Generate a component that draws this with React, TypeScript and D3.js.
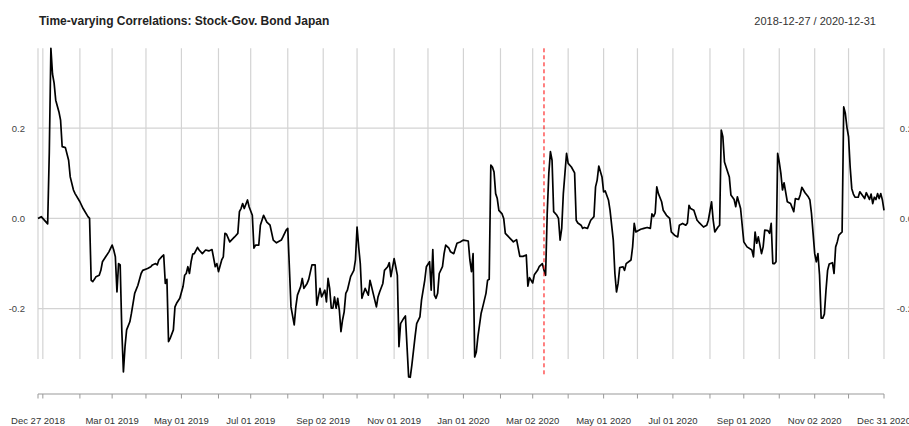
import React, { useEffect, useRef } from "react";
import * as d3 from "d3";

// Series: weekday observation index (0 = 2018-12-27) and correlation value
const startDate = "2018-12-27";
const endDate = "2020-12-31";
const eventDate = "2020-03-11";
const titleText = "Time-varying Correlations: Stock-Gov. Bond Japan";
const rangeText = "2018-12-27 / 2020-12-31";

const labelDates = [
  "2018-12-27", "2019-03-01", "2019-05-01", "2019-07-01", "2019-09-02",
  "2019-11-01", "2020-01-01", "2020-03-02", "2020-05-01", "2020-07-01",
  "2020-09-01", "2020-11-02", "2020-12-31",
];

const yTicks = [-0.2, 0, 0.2];

const corrSeries: [number, number][] = [
  [0, 0.0], [2, 0.004], [6, -0.012], [7, 0.145], [8, 0.377], [9, 0.32], [10, 0.3], [11, 0.262],
  [13, 0.236], [14, 0.218], [15, 0.159], [17, 0.157], [19, 0.129], [20, 0.092], [22, 0.063],
  [23, 0.055], [26, 0.037], [28, 0.022], [31, 0.004], [32, 0.0], [33, -0.137], [34, -0.14],
  [35, -0.135], [36, -0.129], [38, -0.126], [39, -0.115], [40, -0.096], [42, -0.085], [44, -0.074],
  [46, -0.059], [47, -0.07], [48, -0.085], [49, -0.163], [50, -0.1], [51, -0.103], [52, -0.247],
  [53, -0.34], [54, -0.284], [55, -0.247], [57, -0.229], [58, -0.21], [60, -0.166], [62, -0.148],
  [64, -0.122], [65, -0.115], [68, -0.111], [70, -0.107], [71, -0.103], [73, -0.1], [74, -0.103],
  [75, -0.092], [77, -0.084], [78, -0.081], [79, -0.144], [80, -0.135], [81, -0.273], [82, -0.266],
  [84, -0.247], [85, -0.196], [86, -0.188], [88, -0.177], [90, -0.151], [91, -0.126], [92, -0.122],
  [93, -0.107], [94, -0.122], [95, -0.096], [96, -0.079], [97, -0.078], [99, -0.064], [100, -0.07],
  [102, -0.078], [104, -0.07], [106, -0.072], [108, -0.069], [110, -0.107], [111, -0.1], [112, -0.118],
  [114, -0.092], [115, -0.085], [116, -0.033], [117, -0.035], [119, -0.052], [122, -0.041],
  [124, -0.033], [125, 0.015], [126, 0.022], [127, 0.033], [128, 0.022], [130, 0.041], [131, 0.026],
  [133, 0.007], [134, -0.066], [135, -0.059], [137, -0.059], [138, -0.015], [140, 0.007],
  [142, -0.008], [144, -0.015], [146, -0.048], [148, -0.054], [151, -0.048], [152, -0.041],
  [154, -0.026], [155, -0.022], [157, -0.196], [159, -0.236], [160, -0.196], [161, -0.17],
  [163, -0.151], [164, -0.133], [165, -0.155], [167, -0.144], [168, -0.135], [170, -0.103],
  [172, -0.103], [173, -0.192], [175, -0.155], [176, -0.174], [178, -0.159], [179, -0.185],
  [180, -0.133], [181, -0.155], [182, -0.199], [183, -0.199], [184, -0.174], [185, -0.199],
  [186, -0.177], [187, -0.203], [188, -0.251], [189, -0.225], [190, -0.207], [191, -0.166],
  [192, -0.159], [194, -0.129], [196, -0.115], [197, -0.092], [198, -0.019], [199, -0.063],
  [200, -0.1], [201, -0.177], [202, -0.166], [203, -0.155], [205, -0.17], [206, -0.137],
  [207, -0.151], [208, -0.166], [210, -0.196], [211, -0.174], [212, -0.163], [214, -0.144],
  [215, -0.115], [217, -0.107], [218, -0.098], [219, -0.129], [221, -0.089], [222, -0.107],
  [223, -0.126], [224, -0.284], [225, -0.233], [227, -0.221], [228, -0.216], [230, -0.351],
  [231, -0.352], [232, -0.325], [234, -0.262], [235, -0.233], [237, -0.218], [238, -0.181],
  [240, -0.137], [241, -0.107], [243, -0.096], [244, -0.159], [245, -0.069], [246, -0.17],
  [247, -0.177], [248, -0.166], [249, -0.122], [251, -0.107], [252, -0.078], [253, -0.059],
  [255, -0.066], [256, -0.074], [258, -0.078], [260, -0.055], [262, -0.052], [264, -0.048],
  [267, -0.05], [268, -0.092], [269, -0.118], [270, -0.078], [271, -0.307], [272, -0.296],
  [273, -0.262], [275, -0.21], [276, -0.196], [278, -0.166], [279, -0.137], [280, -0.135],
  [281, 0.118], [282, 0.114], [283, 0.103], [284, 0.055], [285, 0.044], [286, 0.018], [288, 0.01],
  [289, 0.0], [290, -0.033], [294, -0.048], [295, -0.052], [297, -0.047], [299, -0.084],
  [301, -0.084], [303, -0.081], [304, -0.15], [305, -0.131], [307, -0.143], [308, -0.125],
  [310, -0.115], [311, -0.107], [313, -0.1], [314, -0.115], [315, -0.126], [316, 0.011],
  [317, 0.1], [318, 0.148], [319, 0.129], [320, 0.015], [322, 0.007], [323, 0.0], [324, -0.048],
  [325, -0.022], [326, 0.055], [327, 0.1], [328, 0.144], [329, 0.122], [331, 0.114], [333, 0.101],
  [334, -0.004], [335, -0.01], [337, -0.015], [338, -0.022], [339, -0.02], [341, -0.022],
  [343, -0.004], [344, 0.0], [345, 0.004], [346, 0.07], [347, 0.085], [348, 0.116], [350, 0.092],
  [351, 0.059], [352, 0.061], [354, 0.041], [355, 0.018], [357, -0.048], [358, -0.122],
  [359, -0.163], [360, -0.144], [361, -0.109], [363, -0.107], [364, -0.115], [365, -0.1],
  [368, -0.092], [369, -0.063], [370, -0.011], [371, -0.03], [374, -0.024], [376, -0.022],
  [378, -0.02], [380, -0.022], [381, 0.01], [382, 0.004], [383, 0.012], [384, 0.07], [385, 0.055],
  [387, 0.037], [388, 0.018], [390, 0.007], [392, 0.0], [393, -0.03], [395, -0.037], [397, -0.041],
  [398, -0.015], [400, -0.011], [402, -0.015], [403, -0.01], [404, 0.029], [405, 0.022],
  [407, 0.018], [409, -0.004], [410, -0.008], [413, -0.019], [415, -0.015], [416, -0.004],
  [418, 0.037], [419, -0.004], [420, -0.03], [422, -0.019], [423, -0.015], [424, 0.196],
  [425, 0.181], [426, 0.125], [427, 0.114], [429, 0.092], [430, 0.052], [432, 0.042], [433, 0.026],
  [434, 0.048], [436, 0.022], [438, -0.052], [440, -0.063], [443, -0.07], [444, -0.085],
  [445, -0.03], [446, -0.055], [447, -0.041], [449, -0.078], [450, -0.063], [451, -0.026],
  [453, -0.027], [454, -0.033], [455, -0.011], [456, -0.1], [457, -0.1], [458, -0.096],
  [459, 0.144], [460, 0.125], [461, 0.1], [462, 0.063], [463, 0.079], [465, 0.037], [467, 0.033],
  [469, 0.015], [470, 0.044], [472, 0.042], [473, 0.052], [474, 0.069], [476, 0.057], [478, 0.048],
  [479, 0.041], [480, 0.011], [481, -0.033], [482, -0.078], [483, -0.096], [484, -0.078],
  [485, -0.126], [486, -0.221], [487, -0.221], [488, -0.212], [489, -0.159], [490, -0.115],
  [491, -0.101], [493, -0.098], [494, -0.122], [495, -0.063], [496, -0.052], [497, -0.037],
  [499, -0.03], [500, 0.247], [501, 0.233], [502, 0.202], [503, 0.181], [504, 0.114], [505, 0.066],
  [506, 0.054], [507, 0.047], [509, 0.047], [510, 0.059], [513, 0.044], [514, 0.057], [516, 0.042],
  [517, 0.054], [518, 0.033], [519, 0.047], [520, 0.042], [521, 0.055], [522, 0.044], [523, 0.055],
  [524, 0.041], [525, 0.018],
];

const width = 909;
const height = 426;
const font = "'Liberation Sans', Arial, Helvetica, sans-serif";

const parse = d3.utcParse("%Y-%m-%d");
const fmtKey = d3.utcFormat("%Y-%m-%d");
const fmtLabel = d3.utcFormat("%b %d %Y");
// R-style labels use a plain hyphen for the minus sign
const fmtY = (v: number) => d3.format(".1f")(v).replace("\u2212", "-");

const App = () => {
  const ref = useRef<SVGSVGElement | null>(null);

  useEffect(() => {
    document.body.style.margin = "0";
    const svg = d3.select(ref.current);
    svg.selectAll("*").remove();

    // weekday calendar -> observation index
    const days = d3
      .utcDays(parse(startDate)!, d3.utcDay.offset(parse(endDate)!, 1))
      .filter((d) => d.getUTCDay() !== 0 && d.getUTCDay() !== 6);
    const indexOf = new Map(days.map((d, i) => [fmtKey(d), i]));
    const last = days.length - 1;

    // monthly ticks: first obs, first weekday of each month, last obs
    const monthTicks = days
      .map((d, i) => ({ d, i }))
      .filter(({ d, i }) => i === 0 || i === last || d.getUTCMonth() !== days[i - 1].getUTCMonth())
      .map(({ i }) => i);

    const x = d3.scaleLinear().domain([0, last]).range([38, 884]);
    const y = d3
      .scaleLinear()
      .domain(d3.extent(corrSeries, (d) => d[1]) as [number, number])
      .range([377.3, 48.3]);

    const gridTop = 48.3;
    const gridBottom = 359;

    // vertical grid
    svg
      .append("g")
      .selectAll("line")
      .data(monthTicks)
      .enter()
      .append("line")
      .attr("x1", (d) => x(d))
      .attr("x2", (d) => x(d))
      .attr("y1", gridTop)
      .attr("y2", gridBottom)
      .attr("stroke", "#d3d3d3")
      .attr("stroke-width", 1.2);

    // horizontal grid
    svg
      .append("g")
      .selectAll("line")
      .data(yTicks)
      .enter()
      .append("line")
      .attr("x1", 38)
      .attr("x2", 884)
      .attr("y1", (d) => y(d))
      .attr("y2", (d) => y(d))
      .attr("stroke", "#d3d3d3")
      .attr("stroke-width", 1.2);

    // y labels, both sides
    const yLab = svg.append("g").attr("font-family", font).attr("font-size", 9.5).attr("fill", "#444");
    yTicks.forEach((t) => {
      const s = fmtY(t);
      yLab.append("text").attr("x", 25).attr("y", y(t)).attr("dy", "0.35em").attr("text-anchor", "end").text(s);
      yLab.append("text").attr("x", 913).attr("y", y(t)).attr("dy", "0.35em").attr("text-anchor", "end").text(s);
    });

    // x axis
    const ax = svg.append("g");
    ax.append("line")
      .attr("x1", x(0))
      .attr("x2", x(last))
      .attr("y1", 394)
      .attr("y2", 394)
      .attr("stroke", "#999")
      .attr("stroke-width", 1);
    ax.selectAll(".tk")
      .data(monthTicks)
      .enter()
      .append("line")
      .attr("x1", (d) => x(d))
      .attr("x2", (d) => x(d))
      .attr("y1", 394)
      .attr("y2", 398.5)
      .attr("stroke", "#999")
      .attr("stroke-width", 1);
    ax.selectAll("text")
      .data(labelDates)
      .enter()
      .append("text")
      .attr("x", (d) => x(indexOf.get(d) ?? 0))
      .attr("y", 424)
      .attr("text-anchor", "middle")
      .attr("font-family", font)
      .attr("font-size", 9.5)
      .attr("fill", "#333")
      .text((d) => fmtLabel(parse(d)!));

    // series line
    const line = d3
      .line<[number, number]>()
      .x((d) => x(d[0]))
      .y((d) => y(d[1]));
    svg
      .append("path")
      .datum(corrSeries)
      .attr("d", line)
      .attr("fill", "none")
      .attr("stroke", "#000")
      .attr("stroke-width", 1.7)
      .attr("stroke-linejoin", "round");

    // event line
    const ev = indexOf.get(eventDate) ?? 0;
    svg
      .append("line")
      .attr("x1", x(ev))
      .attr("x2", x(ev))
      .attr("y1", y.range()[1])
      .attr("y2", y.range()[0])
      .attr("stroke", "#ff0000")
      .attr("stroke-width", 1)
      .attr("stroke-dasharray", "4,3");

    // title and date range
    svg
      .append("text")
      .attr("x", 39)
      .attr("y", 25)
      .attr("font-family", font)
      .attr("font-size", 12)
      .attr("font-weight", "bold")
      .attr("fill", "#222")
      .text(titleText);
    svg
      .append("text")
      .attr("x", 876)
      .attr("y", 25)
      .attr("text-anchor", "end")
      .attr("font-family", font)
      .attr("font-size", 11)
      .attr("fill", "#333")
      .text(rangeText);
  }, []);

  return <svg ref={ref} width={width} height={height} style={{ display: "block" }} />;
};

export default App;
